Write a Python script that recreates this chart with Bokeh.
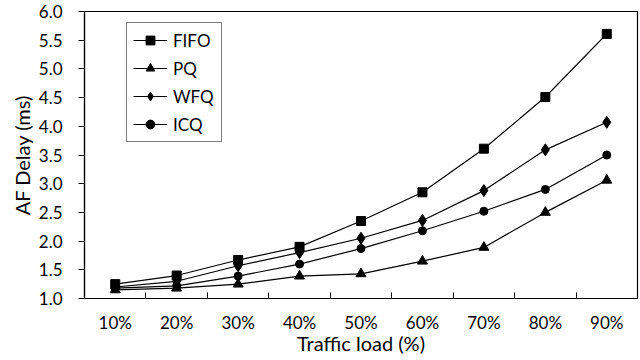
from bokeh.plotting import figure
from bokeh.models import FixedTicker, Legend, LegendItem, Range1d
from bokeh.embed import file_html
from bokeh.resources import INLINE

categories = ["10%", "20%", "30%", "40%", "50%", "60%", "70%", "80%", "90%"]
fifo = [1.25, 1.40, 1.67, 1.90, 2.35, 2.85, 3.61, 4.51, 5.61]
pq = [1.15, 1.18, 1.25, 1.39, 1.43, 1.65, 1.89, 2.50, 3.06]
wfq = [1.20, 1.30, 1.57, 1.80, 2.05, 2.36, 2.88, 3.59, 4.07]
icq = [1.18, 1.22, 1.39, 1.60, 1.87, 2.18, 2.52, 2.90, 3.50]
y_ticks = [1.0, 1.5, 2.0, 2.5, 3.0, 3.5, 4.0, 4.5, 5.0, 5.5, 6.0]

xs = list(range(len(categories)))
FONT = "Lato"

p = figure(width=640, height=360, output_backend="svg", toolbar_location=None,
           x_range=Range1d(-0.5, len(categories) - 0.5), y_range=Range1d(1.0, 6.0),
           min_border_left=84, min_border_right=3, min_border_top=11, min_border_bottom=62)
p.background_fill_color = "white"
p.border_fill_color = "white"
p.outline_line_color = "black"
p.outline_line_width = 1.2
p.xgrid.visible = False
p.ygrid.visible = False

# x axis: labels at category centres, small inward ticks at boundaries
p.xaxis.ticker = FixedTicker(ticks=xs, minor_ticks=[i - 0.5 for i in range(len(categories) + 1)])
p.xaxis.major_label_overrides = {i: c for i, c in enumerate(categories)}
p.xaxis.major_tick_in = 0
p.xaxis.major_tick_out = 0
p.xaxis.minor_tick_in = 6
p.xaxis.minor_tick_out = 0
p.xaxis.minor_tick_line_color = "black"
p.xaxis.axis_line_color = "black"
p.xaxis.axis_line_width = 1.2
p.xaxis.major_label_text_font = FONT
p.xaxis.major_label_text_font_size = "17px"
p.xaxis.major_label_text_color = "black"
p.xaxis.major_label_standoff = 13
p.xaxis.axis_label = "Traffic load (%)"
p.xaxis.axis_label_text_font = FONT
p.xaxis.axis_label_text_font_size = "20px"
p.xaxis.axis_label_text_font_style = "normal"
p.xaxis.axis_label_text_color = "black"
p.xaxis.axis_label_standoff = -5

p.yaxis.ticker = FixedTicker(ticks=y_ticks, minor_ticks=[])
p.yaxis.major_label_overrides = {t: f"{t:.1f}" for t in y_ticks}
p.yaxis.major_tick_in = 0
p.yaxis.major_tick_out = 6
p.yaxis.major_tick_line_color = "black"
p.yaxis.axis_line_color = "black"
p.yaxis.axis_line_width = 1.2
p.yaxis.major_label_text_font = FONT
p.yaxis.major_label_text_font_size = "17px"
p.yaxis.major_label_text_color = "black"
p.yaxis.major_label_standoff = 16
p.yaxis.axis_label = "AF Delay (ms)"
p.yaxis.axis_label_text_font = FONT
p.yaxis.axis_label_text_font_size = "20px"
p.yaxis.axis_label_text_font_style = "normal"
p.yaxis.axis_label_text_color = "black"
p.yaxis.axis_label_standoff = 2

series = [
    ("FIFO", fifo, "square", 9),
    ("PQ", pq, "triangle", 10),
    ("WFQ", wfq, "diamond", 12),
    ("ICQ", icq, "circle", 8),
]
items = []
for name, ys, marker, size in series:
    l = p.line(xs, ys, line_color="black", line_width=1.2)
    s = p.scatter(xs, ys, marker=marker, size=size, fill_color="black", line_color="black")
    items.append(LegendItem(label=name, renderers=[l, s]))

legend = Legend(items=items, location=(42, 156))
legend.border_line_color = "black"
legend.border_line_width = 1
legend.background_fill_alpha = 1
legend.padding = 6
legend.spacing = 6
legend.glyph_width = 34
legend.glyph_height = 22
legend.label_height = 22
legend.label_width = 42
legend.label_standoff = 6
legend.label_text_font = FONT
legend.label_text_font_size = "17px"
legend.label_text_color = "black"
legend.margin = 0
p.add_layout(legend, "center")

open("out.html", "w").write(file_html(p, INLINE))
